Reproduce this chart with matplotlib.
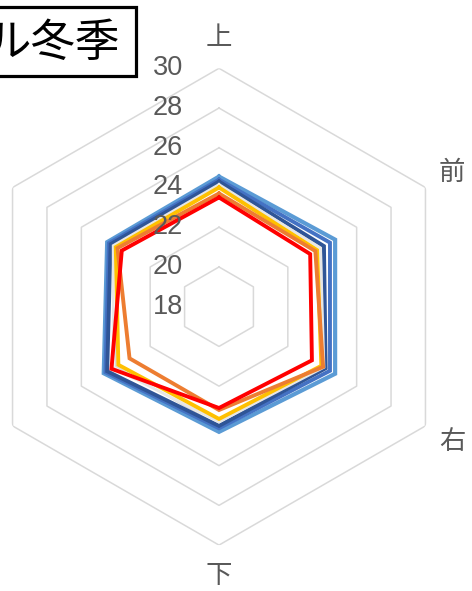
import numpy as np
import matplotlib
matplotlib.use("Agg")
import matplotlib.pyplot as plt
import matplotlib.patches as mpatches
import matplotlib.transforms as mtrans

plt.rcParams['font.family'] = ['Liberation Sans', 'Noto Sans CJK JP', 'DejaVu Sans']

# 軸ラベル（時計回り、上から）。左側の2軸は元画像で切れて見えないので表示しない
CATS = ["上", "前", "右", "下", "左", "後"]
SHOW_LABEL = [True, True, True, True, False, False]
TITLE = "ル冬季"
R_MIN, R_MAX, R_STEP = 18, 30, 2

# 系列（値は図から読み取り）
S_LIGHTBLUE = [24.55, 24.75, 24.75, 24.30, 24.70, 24.50]
S_BLUE      = [24.40, 24.45, 24.45, 24.12, 24.60, 24.40]
S_NAVY      = [24.30, 24.10, 24.20, 24.00, 24.50, 24.30]
S_GRAY      = [24.15, 23.90, 24.10, 23.80, 24.15, 24.15]
S_YELLOW    = [24.00, 23.70, 23.95, 23.65, 23.85, 24.00]
S_ORANGE    = [23.70, 23.60, 24.05, 23.20, 23.20, 23.90]
S_RED       = [23.50, 23.30, 23.40, 23.10, 24.25, 23.65]

SERIES = [
    (S_LIGHTBLUE, "#5B9BD5", 3.0),
    (S_BLUE, "#4472C4", 2.8),
    (S_NAVY, "#2F5597", 2.8),
    (S_GRAY, "#E6E6E6", 2.0),
    (S_YELLOW, "#FFC000", 2.8),
    (S_ORANGE, "#ED7D31", 2.8),
    (S_RED, "#FF0000", 2.8),
]

W, H = 472, 591
fig = plt.figure(figsize=(W / 100, H / 100), dpi=100)

# 中心 (219, 307) px, 半径 238 px
cx, cy, rad = 219, 306.7, 238.4
ax = fig.add_axes([(cx - rad) / W, (H - cy - rad) / H, 2 * rad / W, 2 * rad / H],
                  projection="polar")
ax.set_theta_offset(np.pi / 2)
ax.set_theta_direction(-1)
ax.set_ylim(R_MIN, R_MAX)
ax.grid(False)
ax.spines["polar"].set_visible(False)
ax.set_xticks([])
ax.set_yticks([])

ang = np.linspace(0, 2 * np.pi, len(CATS), endpoint=False)
ang_c = np.append(ang, ang[0])

# 六角形グリッド
for lv in range(R_MIN + R_STEP, R_MAX + 1, R_STEP):
    ax.plot(ang_c, [lv] * len(ang_c), color="#D9D9D9", lw=1.1, zorder=1)

# 目盛ラベル
off = mtrans.offset_copy(ax.transData, fig=fig, x=-36, y=0, units="dots")
for lv in range(R_MIN, R_MAX + 1, R_STEP):
    ax.text(0, lv, str(lv), transform=off, ha="right", va="center",
            fontsize=19.5, color="#595959", zorder=5)

# 系列
for vals, col, lw in SERIES:
    v = np.append(vals, vals[0])
    ax.plot(ang_c, v, color=col, lw=lw, zorder=3, solid_joinstyle="miter")

# 軸ラベル
for a, lbl, show in zip(ang, CATS, SHOW_LABEL):
    if show:
        ax.text(a, 31.55, lbl, ha="center", va="center", fontsize=19,
                color="#595959", family=["Noto Sans CJK JP"], clip_on=False)

# タイトル枠（左端は切れている）
fig.patches.append(mpatches.Rectangle((-20 / W, 1 - 76 / H), 156 / W, 69 / H,
                                      transform=fig.transFigure, fill=False,
                                      edgecolor="black", lw=2.3))
fig.text(120 / W, 1 - 43 / H, TITLE, ha="right", va="center", fontsize=32,
         color="black", family=["Noto Sans CJK JP"])

fig.savefig("out.png", dpi=100)
